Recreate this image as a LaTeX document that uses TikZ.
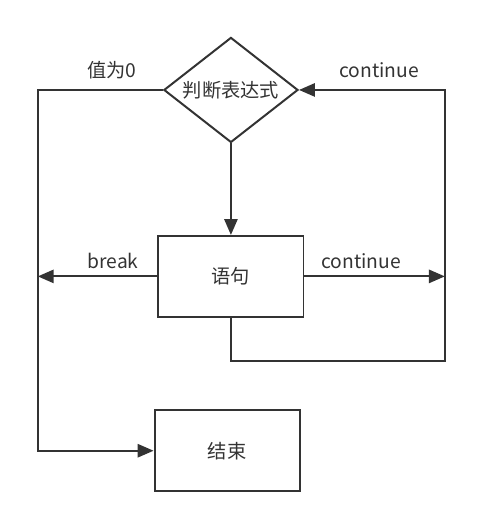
\documentclass[tikz,border=0pt]{standalone}
\usepackage{fontspec}
\setmainfont{Noto Sans CJK SC}
\usetikzlibrary{arrows.meta, positioning, shapes.geometric}
\definecolor{linegray}{HTML}{333333}
\tikzset{
  block/.style = {rectangle, draw=linegray, line width=1.5pt, minimum width=3.84cm, minimum height=2.14cm},
  decision/.style = {diamond, draw=linegray, line width=1.5pt, aspect=1.28, inner sep=0pt, minimum width=3.55cm, minimum height=2.78cm},
  arrow/.style = {draw=linegray, line width=1.5pt, -{Triangle[length=12pt, width=10pt]}},
  lbl/.style = {text=linegray},
}

\begin{document}
\begin{tikzpicture}[node distance=2.42cm, font=\fontsize{14.5}{17}\selectfont, text=linegray]

  \useasboundingbox (-6.11,2.38) rectangle (6.88,-11.59);

  \node (cond) [decision] {判断表达式};
  \node (stmt) [block, below=of cond] {语句};
  \node (end) [block, below=of stmt, xshift=-0.1cm] {结束};

  \coordinate (leftrail) at (-5.11,0);
  \coordinate (rightrail) at (5.66,0);
  \coordinate (loopbot) at (0,-7.17);

  \node (zero) [lbl] at (-3.15,0.53) {值为0};
  \node (cont1) [lbl] at (3.92,0.53) {continue};
  \node (brk) [lbl] at (-3.12,-4.52) {break};
  \node (cont2) [lbl] at (3.44,-4.52) {continue};

  \draw [arrow] (cond) -- (stmt);
  \draw [arrow] (stmt.west) -- (stmt.west -| leftrail);
  \draw [arrow] (stmt.east) -- (stmt.east -| rightrail);
  \draw [arrow] (stmt.south) -- (stmt.south |- loopbot) -| (rightrail) -- (cond.east);
  \draw [arrow] (cond.west) -- (leftrail) -- (leftrail |- end.west) -- (end.west);

\end{tikzpicture}
\end{document}
